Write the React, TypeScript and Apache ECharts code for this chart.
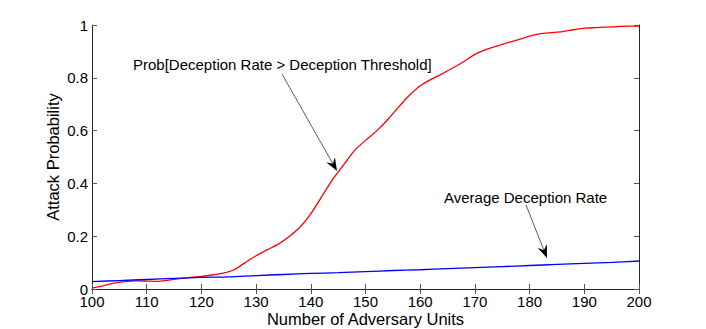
import React, { useEffect, useRef } from "react";
import * as echarts from "echarts";

const unitsRed = [100,102,104,106,108,110,112,114,116,118,120,122,124,126,128,130,132,134,136,138,140,142,144,146,148,150,152,154,156,158,160,162,164,166,168,170,172,174,176,178,180,182,184,186,188,190,192,194,196,198,200];
const probExceed = [0.003,0.012,0.022,0.028,0.031,0.030,0.029,0.034,0.039,0.044,0.048,0.053,0.060,0.073,0.100,0.126,0.148,0.169,0.198,0.234,0.285,0.350,0.415,0.470,0.525,0.563,0.598,0.640,0.688,0.733,0.770,0.794,0.815,0.838,0.862,0.889,0.907,0.920,0.933,0.945,0.958,0.967,0.971,0.975,0.982,0.988,0.990,0.992,0.994,0.996,0.996];

const unitsBlue = [100,105,110,115,120,125,130,135,140,145,150,155,160,165,170,175,180,185,190,195,200];
const avgRate = [0.028,0.032,0.036,0.040,0.044,0.046,0.051,0.055,0.059,0.062,0.066,0.070,0.073,0.077,0.081,0.085,0.089,0.093,0.097,0.101,0.106];

const xTicks = [100,110,120,130,140,150,160,170,180,190,200];
const yTicks = [0,0.2,0.4,0.6,0.8,1];

const FONT = "Liberation Sans, Arial, Helvetica, sans-serif";

function arrow(x1: number, y1: number, x2: number, y2: number) {
  const dx = x2 - x1, dy = y2 - y1;
  const len = Math.sqrt(dx * dx + dy * dy);
  const ux = dx / len, uy = dy / len;
  const nx = -uy, ny = ux;
  const L = 13, W = 5;
  const bx = x2 - L * ux, by = y2 - L * uy;
  const mx = x2 - 0.65 * L * ux, my = y2 - 0.65 * L * uy;
  return [
    { type: "line", shape: { x1, y1, x2: mx, y2: my }, style: { stroke: "#333", lineWidth: 0.8 }, silent: true },
    {
      type: "polygon",
      shape: { points: [[x2, y2], [bx + W * nx, by + W * ny], [mx, my], [bx - W * nx, by - W * ny]] },
      style: { fill: "#000" },
      silent: true,
    },
  ];
}

export default function App() {
  const ref = useRef<HTMLDivElement>(null);
  useEffect(() => {
    if (!ref.current) return;
    const chart = echarts.init(ref.current, undefined, { renderer: "svg" });
    const axisLine = { show: true, lineStyle: { color: "#262626", width: 1 } };
    const tickInside = { show: true, inside: true, length: 5, lineStyle: { color: "#555" } };
    chart.setOption({
      animation: false,
      backgroundColor: "#fff",
      grid: { left: 92, right: 67, top: 25, bottom: 40, containLabel: false, outerBoundsMode: "none" },
      xAxis: [
        {
          type: "value", min: 100, max: 200, interval: 10, position: "bottom",
          axisLine, axisTick: tickInside, splitLine: { show: false },
          axisLabel: { color: "#000", fontSize: 15, fontFamily: FONT, margin: 5,
            formatter: (v: number) => (xTicks.includes(v) ? String(v) : "") },
          name: "Number of Adversary Units", nameLocation: "middle", nameGap: 21, nameMoveOverlap: false,
          nameTextStyle: { color: "#000", fontSize: 16.5, fontFamily: FONT },
        },
        {
          type: "value", min: 100, max: 200, interval: 10, position: "top",
          axisLine, axisTick: tickInside, splitLine: { show: false }, axisLabel: { show: false },
        },
      ],
      yAxis: [
        {
          type: "value", min: 0, max: 1, interval: 0.2, position: "left",
          axisLine, axisTick: tickInside, splitLine: { show: false },
          axisLabel: { color: "#000", fontSize: 15, fontFamily: FONT, margin: 4,
            formatter: (v: number) => {
              const t = yTicks.find((y) => Math.abs(y - v) < 1e-9);
              return t === undefined ? "" : String(t);
            } },
          name: "Attack Probability", nameLocation: "middle", nameGap: 31, nameRotate: 90, nameMoveOverlap: false,
          nameTextStyle: { color: "#000", fontSize: 16.5, fontFamily: FONT },
        },
        {
          type: "value", min: 0, max: 1, interval: 0.2, position: "right",
          axisLine, axisTick: tickInside, splitLine: { show: false }, axisLabel: { show: false },
        },
      ],
      series: [
        {
          type: "line", name: "Prob[Deception Rate > Deception Threshold]",
          data: unitsRed.map((x, i) => [x, probExceed[i]]),
          showSymbol: false, smooth: 0.2, lineStyle: { color: "#ff0000", width: 1.3 },
          xAxisIndex: 0, yAxisIndex: 0,
        },
        {
          type: "line", name: "Average Deception Rate",
          data: unitsBlue.map((x, i) => [x, avgRate[i]]),
          showSymbol: false, smooth: 0.3, lineStyle: { color: "#0000ff", width: 1.3 },
          xAxisIndex: 0, yAxisIndex: 0,
        },
      ],
      graphic: [
        {
          type: "text", left: 133, top: 57,
          style: { text: "Prob[Deception Rate > Deception Threshold]", fill: "#000", fontSize: 15, fontFamily: FONT },
        },
        {
          type: "text", left: 444, top: 190,
          style: { text: "Average Deception Rate", fill: "#000", fontSize: 15, fontFamily: FONT },
        },
        ...arrow(282, 74, 337, 171),
        ...arrow(526, 205, 547, 258),
      ],
    });
    return () => chart.dispose();
  }, []);
  return <div ref={ref} style={{ width: 706, height: 329, position: "absolute", left: 0, top: 0 }} />;
}
